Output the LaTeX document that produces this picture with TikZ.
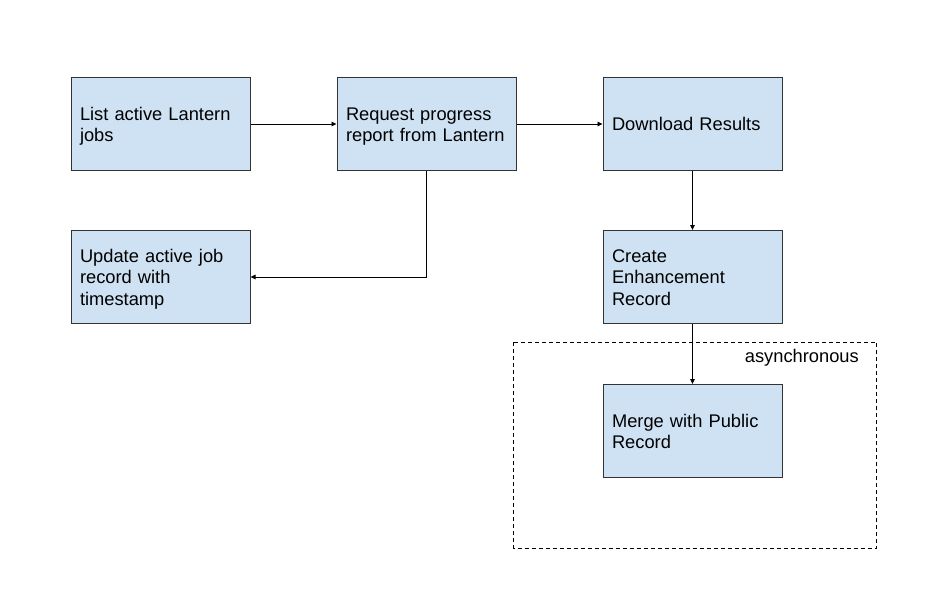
\documentclass[tikz,border=0pt]{standalone}
\usepackage{fontspec}
\setmainfont{Liberation Sans}
\usetikzlibrary{arrows.meta,positioning}
\definecolor{boxfill}{HTML}{CFE2F3}
\definecolor{boxline}{HTML}{333333}
\newcommand{\lnst}{\rule[-3.9pt]{0pt}{21.7pt}}
\begin{document}
\begin{tikzpicture}[x=1pt,y=-1pt,
  stepbox/.style={draw=boxline,fill=boxfill,line width=1pt,minimum width=179pt,minimum height=93pt,
    text width=161pt,inner xsep=9pt,align=left,font=\fontsize{18.3}{21.7}\selectfont},
  conn/.style={line width=0.9pt,draw=black,-{Triangle[length=5pt,width=4.5pt]}}]
\useasboundingbox (0,0) rectangle (931,595);
\fill[white] (0,0) rectangle (931,595);
\node[stepbox] (list) at (160.5,124) {\lnst List active Lantern\\\lnst jobs};
\node[stepbox] (req) at (426.5,124) {\lnst Request progress\\\lnst report from Lantern};
\node[stepbox] (dl) at (692.5,124) {\lnst Download Results};
\node[stepbox] (upd) at (160.5,277) {\lnst Update active job\\\lnst record with\\\lnst timestamp};
\node[stepbox] (enh) at (692.5,277) {\lnst Create\\\lnst Enhancement\\\lnst Record};
\node[stepbox] (merge) at (692.5,431) {\lnst Merge with Public\\\lnst Record};
\draw[line width=0.9pt,dash pattern=on 4pt off 3pt] (513.5,342) rectangle (876.5,548);
\node[anchor=base east,inner sep=0pt,font=\fontsize{18.3}{21.7}\selectfont] (async) at (859,362) {asynchronous};
\draw[conn] (list.east) -- (req.west);
\draw[conn] (req.east) -- (dl.west);
\draw[conn] (req.south) |- (upd.east);
\draw[conn] (dl.south) -- (enh.north);
\draw[conn] (enh.south) -- (merge.north);
\end{tikzpicture}
\end{document}
